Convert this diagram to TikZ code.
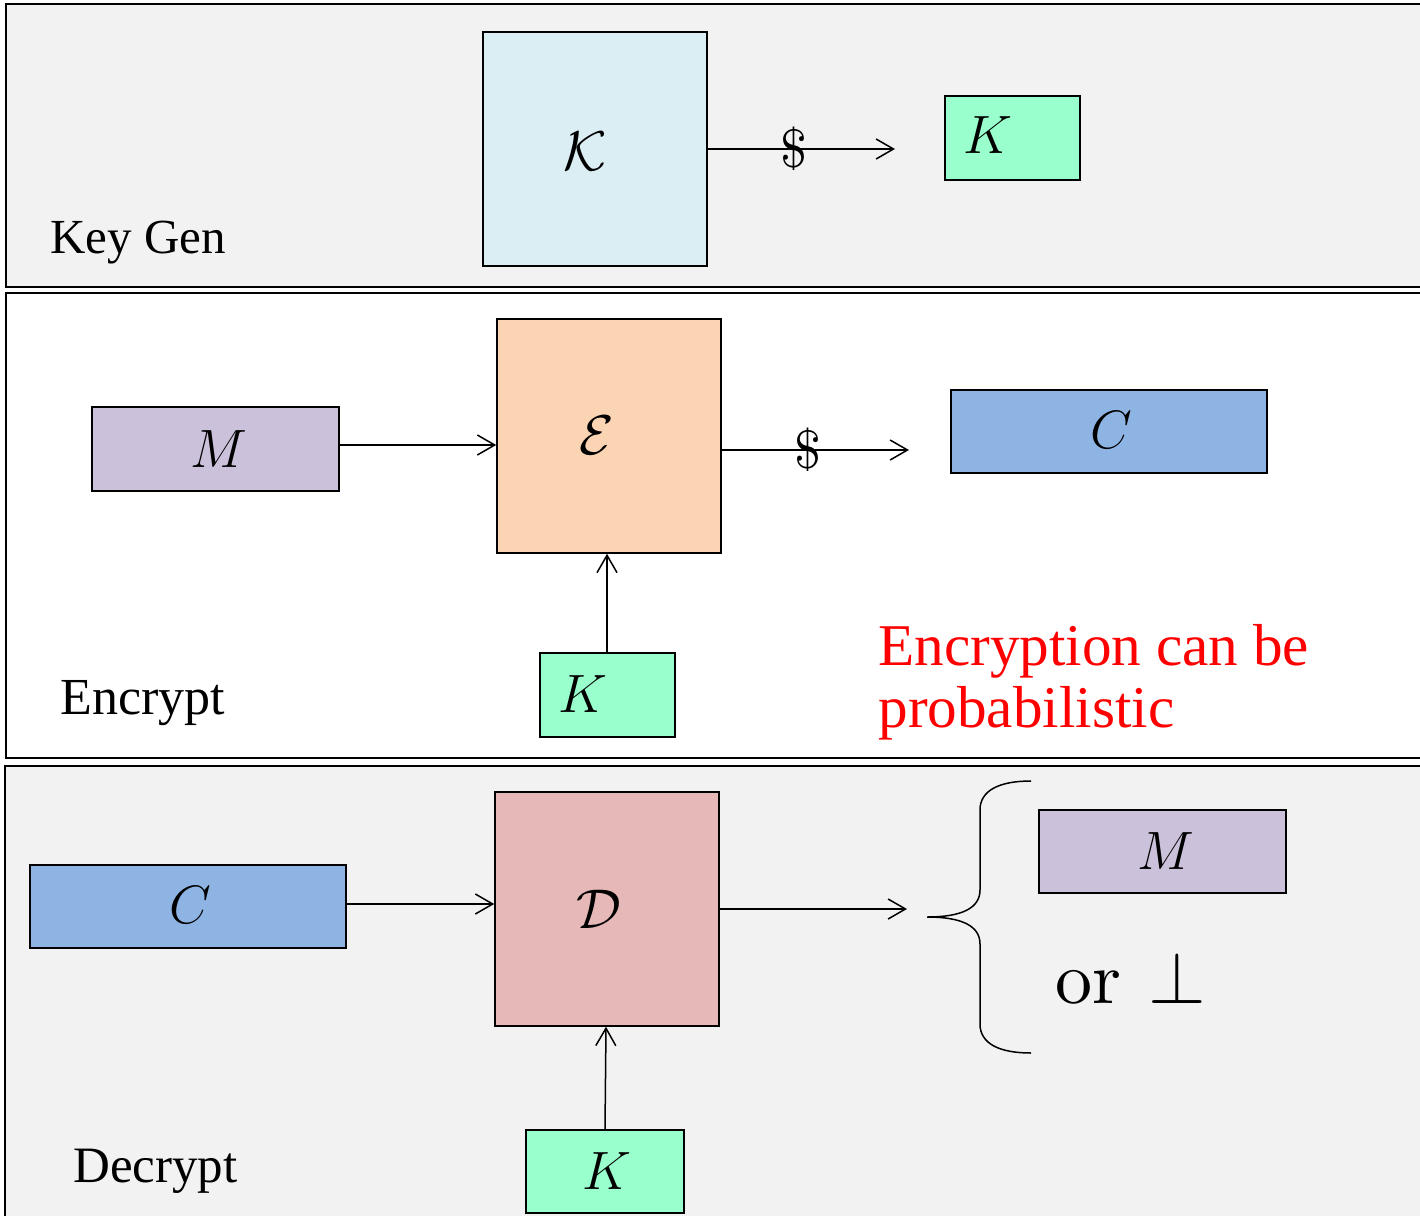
\RequirePackage{fix-cm}
\documentclass[tikz,border=0pt]{standalone}
\usepackage{graphicx}
\usepackage{fontspec}
\setmainfont{Liberation Serif}
\usetikzlibrary{arrows.meta,fit}

\definecolor{panelgray}{HTML}{F2F2F2}
\definecolor{genblue}{HTML}{DBEEF4}
\definecolor{keygreen}{HTML}{99FFCC}
\definecolor{encpeach}{HTML}{FBD4B4}
\definecolor{msglilac}{HTML}{CCC1DA}
\definecolor{ctblue}{HTML}{8EB4E3}
\definecolor{decrose}{HTML}{E6B9B8}

\newcommand{\symfs}{\fontsize{27pt}{30pt}\selectfont}
\newcommand{\calfs}{\fontsize{28pt}{31pt}\selectfont}
\newcommand{\tagfs}{\fontsize{24.5pt}{28pt}\selectfont}
\newcommand{\notefs}{\fontsize{29.6pt}{31pt}\selectfont}
% Computer Modern roman, used for the "or" of the failure output
\newcommand{\cmroman}{\fontencoding{OT1}\fontfamily{cmr}\selectfont}
% random-coin mark, a 10pt dollar sign scaled up
\newcommand{\coinsign}{\scalebox{2.7}{$\$$}}

\begin{document}
\begin{tikzpicture}[x=0.5pt,y=-0.5pt,
  panel/.style={draw=black,line width=1pt},
  box/.style={draw=black,line width=0.75pt,inner sep=0pt},
  sym/.style={inner sep=0pt,font=\symfs},
  cal/.style={inner sep=0pt,font=\calfs},
  tag/.style={inner sep=0pt,anchor=base west,font=\tagfs},
  note/.style={inner sep=0pt,anchor=base west,font=\notefs,text=red},
  arr/.style={line width=0.75pt,-{Straight Barb[length=8.7pt,width=10pt,line width=0.75pt]}},
  coin/.style={inner sep=0pt,font=\normalsize,pos=0.46}]

\useasboundingbox (0,0) rectangle (1420,1216);
\clip (0,0) rectangle (1420,1216);
\fill[white] (0,0) rectangle (1420,1216);

% three stacked panels
\draw[panel,fill=panelgray] (6,4) rectangle (1440,287);
\draw[panel,fill=white] (6,293) rectangle (1440,758);
\draw[panel,fill=panelgray] (5,766) rectangle (1440,1240);

% ---------- key generation ----------
\node[box,fill=genblue,fit={(483,32)(707,266)}] (kgen) {};
\node[cal] (kgentxt) at ([xshift=-5pt,yshift=-1pt]kgen.center) {$\mathcal{K}$};
\node[box,fill=keygreen,fit={(945,96)(1080,180)}] (key1) {};
\node[sym,anchor=base west] (key1txt) at (963,153) {$K$};
\coordinate (kgenend) at (895,149);
\draw[arr] (kgen.east |- kgenend) -- node[coin] (coin1) {\coinsign} (kgenend);
\node[tag] (taggen) at (50,253) {Key Gen};

% ---------- encryption ----------
\node[box,fill=encpeach,fit={(497,319)(721,553)}] (enc) {};
\node[cal] (enctxt) at ([xshift=-6pt,yshift=0.5pt]enc.center) {$\mathcal{E}$};
\node[box,fill=msglilac,fit={(92,407)(339,491)}] (msg1) {};
\node[sym] (msg1txt) at ([xshift=1.5pt]msg1.center) {$M$};
\node[box,fill=keygreen,fit={(540,653)(675,737)}] (key2) {};
\node[sym,anchor=base west] (key2txt) at (558,712) {$K$};
\node[box,fill=ctblue,fit={(951,390)(1267,473)}] (ct1) {};
\node[sym] (ct1txt) at ([xshift=1pt,yshift=0.5pt]ct1.center) {$C$};
\coordinate (encend) at (909,450);
\draw[arr] (msg1.east |- 0,445) -- (enc.west |- 0,445);
\draw[arr] (key2.north -| 607,0) -- (enc.south -| 607,0);
\draw[arr] (enc.east |- encend) -- node[coin] (coin2) {\coinsign} (encend);
\node[tag,font=\fontsize{26pt}{28pt}\selectfont] (tagenc) at (60,714) {Encrypt};
\node[note] (note1) at (878,665) {Encryption can be};
\node[note] (note2) at (878,727) {probabilistic};

% ---------- decryption ----------
\node[box,fill=decrose,fit={(495,792)(719,1026)}] (dec) {};
\node[cal] (dectxt) at ([xshift=-4pt]dec.center) {$\mathcal{D}$};
\node[box,fill=ctblue,fit={(30,865)(346,948)}] (ct2) {};
\node[sym] (ct2txt) at ([xshift=1pt,yshift=0.75pt]ct2.center) {$C$};
\node[box,fill=keygreen,fit={(526,1130)(684,1213)}] (key3) {};
\node[sym] (key3txt) at ([xshift=1pt]key3.center) {$K$};
\node[box,fill=msglilac,fit={(1039,810)(1286,893)}] (msg2) {};
\node[sym] (msg2txt) at ([xshift=1.5pt]msg2.center) {$M$};
\coordinate (decend) at (907,909);
\draw[arr] (ct2.east |- 0,904) -- (dec.west |- 0,904);
\draw[arr] (key3.north -| 605,0) -- (dec.south -| 606,0);
\draw[arr] (dec.east |- decend) -- (decend);
\draw[line width=0.75pt] (1031,781) .. controls (1000,781) and (980,790) .. (980,810)
  -- (980,890) .. controls (980,908) and (962,917) .. (927,917)
  .. controls (962,917) and (980,926) .. (980,944)
  -- (980,1024) .. controls (980,1044) and (1000,1053) .. (1031,1053);
\node[inner sep=0pt,anchor=base west,font=\normalsize] (fail) at (1055,1003)
  {\scalebox{3.7}{{\cmroman or}\ \hspace{0.12em}$\perp$}};
\node[tag,font=\fontsize{25.5pt}{28pt}\selectfont] (tagdec) at (73,1182) {Decrypt};

\end{tikzpicture}
\end{document}
